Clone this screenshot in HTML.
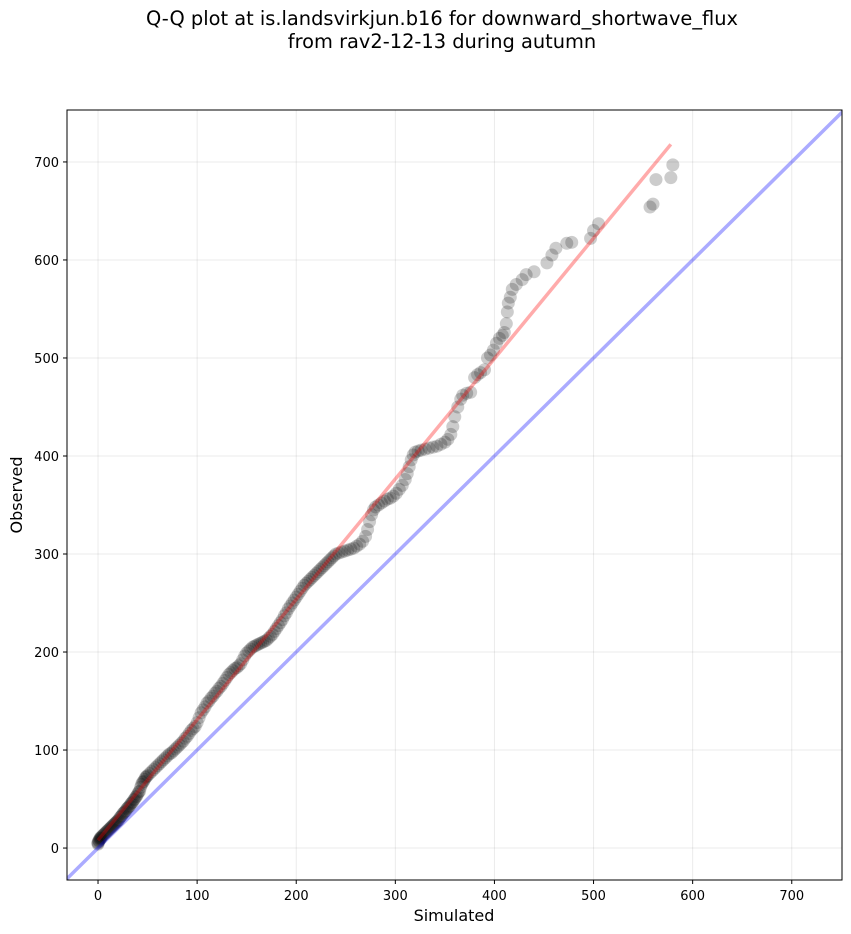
<!DOCTYPE html>
<html><head><meta charset="utf-8"><style>
body{margin:0;background:#fff;}
svg{display:block;font-family:"DejaVu Sans","Liberation Sans",sans-serif;}
</style></head><body>
<svg id="chart" width="851" height="934">
<text x="442" y="25" text-anchor="middle" font-size="19.4">Q-Q plot at is.landsvirkjun.b16 for downward_shortwave_flux</text>
<text x="442" y="48" text-anchor="middle" font-size="19.4">from rav2-12-13 during autumn</text>
<g id="grid"></g>
<defs><clipPath id="clip"><rect x="67" y="110" width="775" height="770"/></clipPath></defs>
<g id="points" clip-path="url(#clip)"></g>
<g id="lines" clip-path="url(#clip)"></g>
<rect x="67" y="110" width="775" height="770" fill="none" stroke="#000" stroke-width="1"/>
<g id="ticks" font-size="13"></g>
<text x="454" y="921" text-anchor="middle" font-size="16">Simulated</text>
<text x="22" y="495" text-anchor="middle" font-size="16" transform="rotate(-90 22 495)">Observed</text>
</svg>
<script>
const simulated=[
0,0,0,1,1,2,2,3,3,4,
5,6,7,8,9,10,11,12,13,14,
15,16,17,18,19,20,21,22,23,24,
25,26,27,28,29,30,31,32,33,34,
35,36,37,38,39,40,41,42,43,44,
45,46,47,48,49,50,52,54,56,58,
60,62,64,66,68,70,72,74,76,78,
80,82,84,86,88,90,92,94,96,98,
100,102,104,106,108,110,112,114,116,118,
120,122,124,126,128,130,132,134,136,138,
140,142,144,146,148,150,152,154,156,158,
160,162,164,166,168,170,172,174,176,178,
180,182,184,186,188,190,192,194,196,198,
200,202,204,206,208,210,212,214,216,218,
220,222,224,226,228,230,232,234,236,238,
240,243,246,249,252,255,258,261,264,267,
270,272,274,276,278,280,283,286,289,292,
295,298,301,304,307,310,312,314,316,318,
320,323,326,330,334,338,342,346,350,353,
356,358,360,363,366,368,372,376,380,383,
386,390,393,396,399,402,405,408,410,412,
413,414,416,418,422,428,432,440,453,458,
462,473,478,497,500,505,557,560,563,578,
580];
const observed=[
4,5,6,7,8,9,10,10,11,12,
13,14,15,16,17,18,19,20,21,22,
23,24,25,26,27,28,29,31,32,33,
35,36,37,38,40,41,42,43,45,46,
47,49,50,52,53,55,57,58,62,65,
67,68,70,72,73,74,76,78,80,82,
84,86,88,90,92,94,96,97,99,101,
103,105,107,109,112,114,117,120,122,124,
128,133,138,141,144,148,150,153,155,158,
160,163,165,168,171,174,177,179,181,183,
184,186,188,192,196,199,201,203,205,206,
207,208,209,210,211,212,214,216,218,221,
224,227,230,233,237,240,244,247,250,253,
256,259,262,265,268,270,272,274,276,278,
280,282,284,286,288,290,292,294,296,298,
300,301,302,303,304,305,306,308,310,313,
318,325,333,340,345,348,350,352,354,356,
357,359,362,366,370,376,382,389,396,401,
404,405,406,407,408,409,410,412,414,417,
422,430,440,450,458,462,464,465,480,483,
485,488,500,503,508,515,520,523,526,535,
547,556,562,570,575,580,585,588,597,605,
612,617,618,622,630,637,654,657,682,684,
697];
const xTicks=[0,100,200,300,400,500,600,700];
const yTicks=[0,100,200,300,400,500,600,700];
const fitLine=[[0,8],[578,718]];
const X0=67,X1=842,Y0=880,Y1=110,xmin=-31.3,xmax=750.7,ymin=-32.6,ymax=753;
const sx=v=>X0+(v-xmin)/(xmax-xmin)*(X1-X0);
const sy=v=>Y0-(v-ymin)/(ymax-ymin)*(Y0-Y1);
const NS='http://www.w3.org/2000/svg';
function mk(t,a,p){const e=document.createElementNS(NS,t);for(const k in a)e.setAttribute(k,a[k]);p.appendChild(e);return e;}
const grid=document.getElementById('grid'),ticks=document.getElementById('ticks');
xTicks.forEach(v=>{
 const g=mk('line',{x1:sx(v),x2:sx(v),y1:Y1,y2:Y0,stroke:'#000','stroke-opacity':0.08},grid);
 
 
 const t=mk('line',{x1:sx(v),x2:sx(v),y1:Y0,y2:Y0+4,stroke:'#000'},ticks);
 
 
 const l=mk('text',{x:sx(v),y:Y0+20,'text-anchor':'middle'},ticks);l.textContent=v;
 
 
});
yTicks.forEach(v=>{
 const g=mk('line',{x1:X0,x2:X1,y1:sy(v),y2:sy(v),stroke:'#000','stroke-opacity':0.08},grid);
 
 
 const t=mk('line',{x1:X0-4,x2:X0,y1:sy(v),y2:sy(v),stroke:'#000'},ticks);
 
 
 const l=mk('text',{x:X0-8,y:sy(v)+5,'text-anchor':'end'},ticks);l.textContent=v;
 
 
});
const pts=document.getElementById('points');
const n=Math.min(simulated.length,observed.length);
for(let i=0;i<n;i++){
 const c=mk('circle',{cx:sx(simulated[i]),cy:sy(observed[i]),r:6.5,fill:'#000','fill-opacity':0.2},pts);
 
 
}
const lines=document.getElementById('lines');
const b=mk('line',{x1:sx(-100),y1:sy(-100),x2:sx(800),y2:sy(800),stroke:'#00f','stroke-opacity':0.33,'stroke-width':3.5},lines);


const r=mk('line',{x1:sx(fitLine[0][0]),y1:sy(fitLine[0][1]),x2:sx(fitLine[1][0]),y2:sy(fitLine[1][1]),stroke:'#f00','stroke-opacity':0.33,'stroke-width':3.5},lines);


</script>
</body></html>
